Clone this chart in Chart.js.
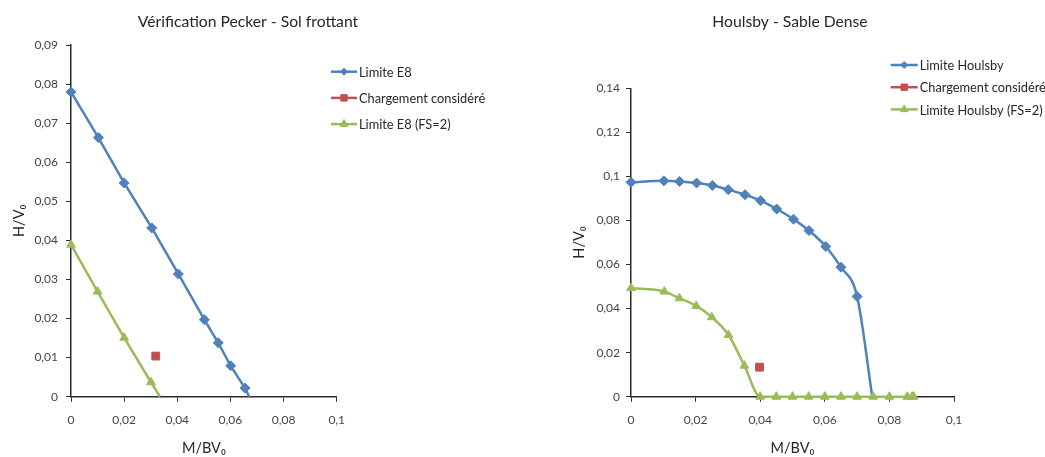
<!DOCTYPE html>
<html><head><meta charset="utf-8">
<script src="https://cdn.jsdelivr.net/npm/chart.js@4/dist/chart.umd.min.js"></script>
<style>
html,body{margin:0;padding:0;background:#fff;width:1045px;height:457px;overflow:hidden}
canvas{position:absolute;top:0}
#c1{left:0}
#c2{left:535px}
</style></head><body>
<canvas id="c1" width="496" height="457"></canvas>
<canvas id="c2" width="510" height="457"></canvas>
<script>
// ---------- data ----------
const peckerTitle = 'Vérification Pecker - Sol frottant';
const houlsbyTitle = 'Houlsby - Sable Dense';
const peckerLabels = ['Limite E8', 'Chargement considéré', 'Limite E8 (FS=2)'];
const houlsbyLabels = ['Limite Houlsby', 'Chargement considéré', 'Limite Houlsby (FS=2)'];
const yAxisTitle = 'H/V₀';
const xAxisTitle = 'M/BV₀';

const peckerLimitM = [0, 0.0103, 0.02, 0.0304, 0.0404, 0.0502, 0.0554, 0.0601, 0.0655, 0.0671];
const peckerLimitH = [0.078, 0.0663, 0.0547, 0.0432, 0.0314, 0.0197, 0.0138, 0.0079, 0.0022, 0];
const peckerLoadM = [0.0319];
const peckerLoadH = [0.0104];
const peckerFS2M = [0, 0.01, 0.02, 0.0301, 0.0335];
const peckerFS2H = [0.0389, 0.0269, 0.0151, 0.0037, 0];

const houlsbyLimitM = [0, 0.0102, 0.015, 0.0203, 0.0252, 0.0301, 0.0353, 0.0401, 0.0451, 0.0503, 0.0551, 0.0603, 0.065, 0.07, 0.0747];
const houlsbyLimitH = [0.0973, 0.098, 0.0977, 0.097, 0.0959, 0.094, 0.0917, 0.089, 0.0852, 0.0806, 0.0754, 0.0682, 0.0588, 0.0455, 0];
const houlsbyLoadM = [0.0398];
const houlsbyLoadH = [0.0134];
const houlsbyFS2M = [0, 0.0103, 0.015, 0.0202, 0.025, 0.0302, 0.0351, 0.04, 0.045, 0.05, 0.055, 0.06, 0.065, 0.07, 0.075, 0.08, 0.0855, 0.087, 0.0875];
const houlsbyFS2H = [0.0493, 0.0477, 0.0447, 0.0412, 0.0361, 0.028, 0.0141, 0, 0, 0, 0, 0, 0, 0, 0, 0, 0, 0, 0];

const peckerXTicks = [0, 0.02, 0.04, 0.06, 0.08, 0.1];
const peckerXTickLabels = ['0', '0,02', '0,04', '0,06', '0,08', '0,1'];
const peckerYTicks = [0, 0.01, 0.02, 0.03, 0.04, 0.05, 0.06, 0.07, 0.08, 0.09];
const peckerYTickLabels = ['0', '0,01', '0,02', '0,03', '0,04', '0,05', '0,06', '0,07', '0,08', '0,09'];
const houlsbyXTicks = [0, 0.02, 0.04, 0.06, 0.08, 0.1];
const houlsbyXTickLabels = ['0', '0,02', '0,04', '0,06', '0,08', '0,1'];
const houlsbyYTicks = [0, 0.02, 0.04, 0.06, 0.08, 0.1, 0.12, 0.14];
const houlsbyYTickLabels = ['0', '0,02', '0,04', '0,06', '0,08', '0,1', '0,12', '0,14'];

// ---------- styling ----------
const FONT = 'Lato, "Open Sans", sans-serif';
const BLUE = '#4F81BD', RED = '#C0504D', GREEN = '#9BBB59';
const AXIS = '#2a2a2a', TICK = '#444444', TEXT = '#262626';

const pts = (xs, ys) => xs.map((x, i) => ({x: x, y: ys[i]}));

const deco = {
  id: 'deco',
  afterDraw(chart, args, o) {
    const ctx = chart.ctx;
    ctx.save();
    ctx.fillStyle = TEXT;
    ctx.font = o.titleSize + 'px ' + FONT;
    ctx.textAlign = 'center';
    ctx.textBaseline = 'middle';
    ctx.fillText(o.title, o.titleX, o.titleY);
    chart.data.datasets.forEach((ds, i) => {
      const y = o.legendY + i * o.legendDy;
      const x = o.legendX;
      ctx.strokeStyle = ds.borderColor;
      ctx.lineWidth = 2.5;
      ctx.beginPath(); ctx.moveTo(x, y); ctx.lineTo(x + o.legendLen, y); ctx.stroke();
      ctx.fillStyle = ds.backgroundColor;
      ctx.lineWidth = 1;
      Chart.helpers.drawPoint(ctx, {pointStyle: ds.pointStyle, radius: o.legendRadius[i], rotation: 0, borderWidth: 1}, x + o.legendLen / 2, y);
      ctx.fillStyle = TEXT;
      ctx.font = o.legendSize + 'px ' + FONT;
      ctx.textAlign = 'left';
      ctx.textBaseline = 'middle';
      ctx.fillText(ds.label, x + o.legendLen + 2, y + 1);
    });
    ctx.restore();
  }
};

function axes(xT, xL, yT, yL, yWidth, yTitlePad, yTickPad, xMax, yMax) {
  const grid = {display: true, drawOnChartArea: false, drawTicks: true, tickLength: 5, color: AXIS, lineWidth: 1};
  const border = {display: true, color: AXIS, width: 1.5};
  return {
    x: {
      type: 'linear', min: 0, max: xMax,
      afterBuildTicks: s => { s.ticks = xT.map(v => ({value: v})); },
      afterFit: s => { s.height = 60.3; },
      grid: grid, border: border,
      ticks: {color: TICK, font: {family: FONT, size: 12}, padding: 11.5, maxRotation: 0, autoSkip: false, callback: (v, i) => xL[i]},
      title: {display: true, text: xAxisTitle, color: TEXT, font: {family: FONT, size: 14.5}, padding: {top: 0, bottom: 0}}
    },
    y: {
      type: 'linear', min: 0, max: yMax,
      afterBuildTicks: s => { s.ticks = yT.map(v => ({value: v})); },
      afterFit: s => { s.width = yWidth; },
      grid: grid, border: border,
      ticks: {color: TICK, font: {family: FONT, size: 12}, padding: yTickPad, autoSkip: false, callback: (v, i) => yL[i]},
      title: {display: true, text: yAxisTitle, color: TEXT, font: {family: FONT, size: 14.5}, padding: {top: yTitlePad, bottom: 0}}
    }
  };
}

function datasets(labels, a, b, c, smooth) {
  const hideZero = ctx => (ctx.raw && ctx.raw.y === 0 ? 0 : 5);
  const common = {showLine: true, clip: false, borderWidth: 2.5, cubicInterpolationMode: smooth ? 'monotone' : 'default', tension: 0};
  return [
    Object.assign({}, common, {label: labels[0], data: a, borderColor: BLUE, backgroundColor: BLUE, pointStyle: 'rectRot', pointRadius: hideZero, pointBorderWidth: 1, order: 3}),
    {label: labels[1], data: b, showLine: false, clip: false, borderColor: RED, backgroundColor: RED, pointStyle: 'rect', pointRadius: 5.5, pointBorderWidth: 1, order: 1},
    Object.assign({}, common, {label: labels[2], data: c, borderColor: GREEN, backgroundColor: GREEN, pointStyle: 'triangle', pointRadius: smooth ? 5 : hideZero, pointBorderWidth: 1, order: 2})
  ];
}

new Chart(document.getElementById('c1'), {
  type: 'scatter',
  data: {datasets: datasets(peckerLabels, pts(peckerLimitM, peckerLimitH), pts(peckerLoadM, peckerLoadH), pts(peckerFS2M, peckerFS2H), false)},
  options: {
    responsive: false, animation: false, devicePixelRatio: 1,
    layout: {padding: {top: 45, left: 0, right: 496 - 336.7, bottom: 0}},
    scales: axes(peckerXTicks, peckerXTickLabels, peckerYTicks, peckerYTickLabels, 71, 10.3, 8, 0.1, 0.09),
    plugins: {
      legend: {display: false}, tooltip: {enabled: false},
      deco: {title: peckerTitle, titleX: 248, titleY: 21.5, titleSize: 15.7,
             legendX: 331, legendY: 71.7, legendDy: 26.2, legendLen: 26, legendSize: 12.8, legendRadius: [3.5, 4.5, 4.5]}
    }
  },
  plugins: [deco]
});

new Chart(document.getElementById('c2'), {
  type: 'scatter',
  data: {datasets: datasets(houlsbyLabels, pts(houlsbyLimitM, houlsbyLimitH), pts(houlsbyLoadM, houlsbyLoadH), pts(houlsbyFS2M, houlsbyFS2H), true)},
  options: {
    responsive: false, animation: false, devicePixelRatio: 1,
    layout: {padding: {top: 88.3, left: 0, right: 510 - 419, bottom: 0}},
    scales: axes(houlsbyXTicks, houlsbyXTickLabels, houlsbyYTicks, houlsbyYTickLabels, 96, 35.3, 6, 0.1, 0.14),
    plugins: {
      legend: {display: false}, tooltip: {enabled: false},
      deco: {title: houlsbyTitle, titleX: 255, titleY: 21.5, titleSize: 15.7,
             legendX: 355.7, legendY: 65, legendDy: 22.2, legendLen: 27, legendSize: 12.8, legendRadius: [3.5, 4.5, 4.5]}
    }
  },
  plugins: [deco]
});
</script>
</body></html>
